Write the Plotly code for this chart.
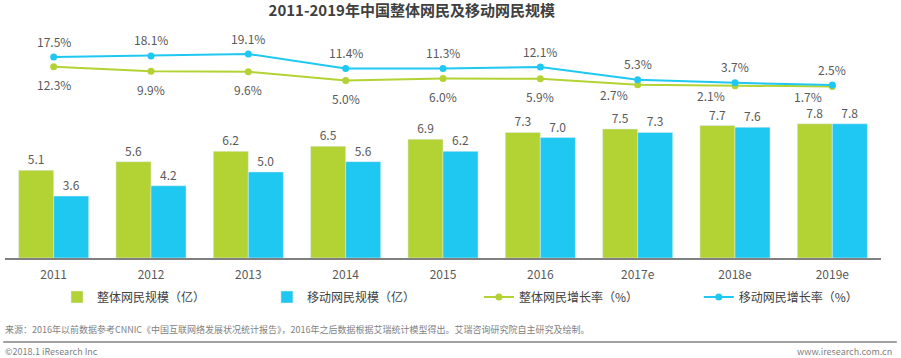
import plotly.graph_objects as go

categories = ["2011", "2012", "2013", "2014", "2015", "2016", "2017e", "2018e", "2019e"]
total_users = [5.1, 5.6, 6.2, 6.5, 6.9, 7.3, 7.5, 7.7, 7.8]
mobile_users = [3.6, 4.2, 5.0, 5.6, 6.2, 7.0, 7.3, 7.6, 7.8]
total_growth = [12.3, 9.9, 9.6, 5.0, 6.0, 5.9, 2.7, 2.1, 1.7]
mobile_growth = [17.5, 18.1, 19.1, 11.4, 11.3, 12.1, 5.3, 3.7, 2.5]

GREEN = "#B3D234"
BLUE = "#1FC8F1"
TXT = "#595959"
FONT = "Microsoft YaHei, Noto Sans CJK SC, sans-serif"

fig = go.Figure()
fig.add_trace(go.Bar(
    x=categories, y=total_users, name="整体网民规模（亿）", marker_color=GREEN,
    text=[f"{v:.1f}" for v in total_users], textposition="outside",
    textfont=dict(size=12, color=TXT), cliponaxis=False, legend="legend",
))
fig.add_trace(go.Bar(
    x=categories, y=mobile_users, name="移动网民规模（亿）", marker_color=BLUE,
    text=[f"{v:.1f}" for v in mobile_users], textposition="outside",
    textfont=dict(size=12, color=TXT), cliponaxis=False, legend="legend2",
))
fig.add_trace(go.Scatter(
    x=categories, y=total_growth, name="整体网民增长率（%）", yaxis="y2",
    mode="lines+markers", line=dict(color=GREEN, width=2),
    marker=dict(size=7, color=GREEN), legend="legend3",
))
fig.add_trace(go.Scatter(
    x=categories, y=mobile_growth, name="移动网民增长率（%）", yaxis="y2",
    mode="lines+markers", line=dict(color=BLUE, width=2),
    marker=dict(size=7, color=BLUE), legend="legend4",
))

annotations = []
for i, v in enumerate(mobile_growth):
    annotations.append(dict(x=i, y=v, xref="x", yref="y2", text=f"{v:.1f}%", showarrow=False,
                            yshift=16, font=dict(size=12, color=TXT)))
for i, v in enumerate(total_growth):
    xs = -24 if i >= 6 else 0
    ys = -10 if i >= 6 else -18
    annotations.append(dict(x=i, y=v, xref="x", yref="y2", text=f"{v:.1f}%", showarrow=False,
                            xshift=xs, yshift=ys, font=dict(size=12, color=TXT)))

annotations += [
    dict(xref="paper", yref="paper", x=0.0, xshift=-2, y=-0.327, xanchor="left", yanchor="middle",
         text="来源：2016年以前数据参考CNNIC《中国互联网络发展状况统计报告》，2016年之后数据根据艾瑞统计模型得出。艾瑞咨询研究院自主研究及绘制。",
         showarrow=False, font=dict(size=9, color="#7F7F7F")),
    dict(xref="paper", yref="paper", x=0.0, xshift=-2, y=-0.427, xanchor="left", yanchor="middle",
         text="©2018.1 iResearch Inc", showarrow=False, font=dict(size=9, color="#7F7F7F")),
    dict(xref="paper", yref="paper", x=1.0, xshift=13, y=-0.427, xanchor="right", yanchor="middle",
         text="www.iresearch.com.cn", showarrow=False, font=dict(size=9, color="#7F7F7F")),
]

def leg(x):
    return dict(orientation="h", x=x, xanchor="left", y=-0.179, yanchor="middle",
                font=dict(size=12, color="#404040"), bgcolor="rgba(0,0,0,0)")

fig.update_layout(
    width=901, height=358,
    margin=dict(l=5, r=20, t=40, b=100),
    paper_bgcolor="white", plot_bgcolor="white",
    font=dict(family=FONT, size=12, color="#404040"),
    title=dict(text="<b>2011-2019年中国整体网民及移动网民规模</b>", x=0.457, xanchor="center",
               y=0.969, yanchor="middle", font=dict(size=15, color="#404040")),
    barmode="group", bargap=0.28, bargroupgap=0,
    showlegend=True,
    legend=leg(0.0594), legend2=leg(0.299), legend3=leg(0.541), legend4=leg(0.792),
    xaxis=dict(type="category", showline=True, linecolor="#808080", linewidth=1.5, ticks="",
               ticklabelstandoff=5,
               tickfont=dict(size=12, color="#595959"), showgrid=False),
    yaxis=dict(range=[0, 12.67], visible=False, showgrid=False, zeroline=False),
    yaxis2=dict(range=[-90.0, 26.6], overlaying="y", side="right", visible=False,
                showgrid=False, zeroline=False),
    annotations=annotations,
    shapes=[dict(type="line", xref="paper", yref="paper", x0=-0.002, x1=1.018,
                 y0=-0.385, y1=-0.385, line=dict(color="#808080", width=1.5))],
)

fig.write_html("out.html", config={"displayModeBar": False},
               post_script="document.body.style.margin='0';document.body.style.overflow='hidden';")
